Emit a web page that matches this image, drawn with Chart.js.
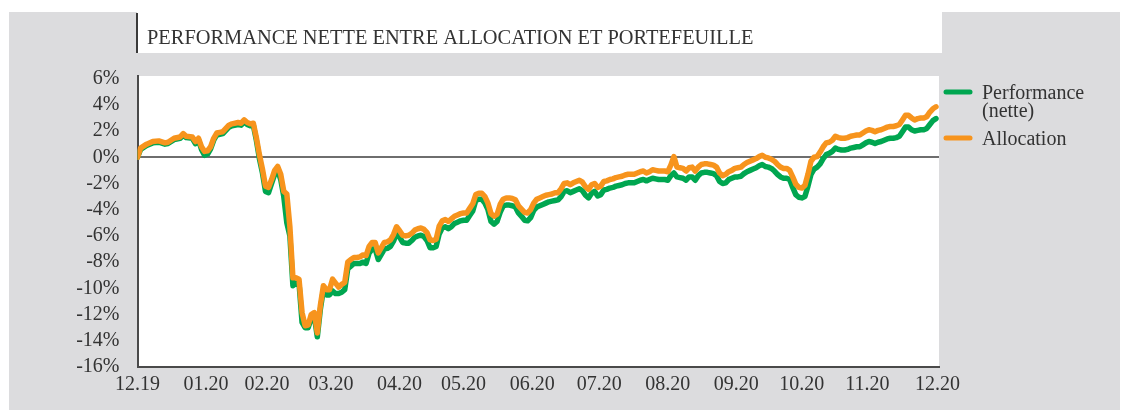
<!DOCTYPE html>
<html>
<head>
<meta charset="utf-8">
<script src="https://cdn.jsdelivr.net/npm/chart.js@4.4.1/dist/chart.umd.min.js"></script>
<style>
    html, body { margin: 0; padding: 0; background: #fff; }
    #wrap { width: 1129px; height: 410px; }
</style>
</head>
<body>
<div id="wrap"><canvas id="perfChart" width="1129" height="410"></canvas></div>
<script>
// ── Données : jours ouvrés depuis le 31.12.2019, performance en % ──
const days = [
    0, 1, 3, 5, 7, 9, 10, 12, 14, 15, 16, 18, 19, 20, 21, 22, 23, 24, 25, 26, 27, 28, 29, 30, 31, 33, 34, 35, 36, 37, 38, 39,
    40, 41, 42, 43, 44, 45, 46, 47, 48, 49, 50, 51, 52, 53, 54, 55, 56, 57, 58, 59, 60, 61, 62, 63, 64, 65, 66, 67, 68, 69,
    70, 71, 72, 73, 74, 75, 76, 77, 78, 79, 80, 81, 82, 83, 84, 85, 86, 87, 88, 89, 90, 91, 92, 93, 94, 95, 96, 97, 98, 99,
    100, 101, 102, 103, 104, 105, 106, 107, 108, 109, 110, 111, 112, 113, 114, 115, 116, 117, 118, 119, 120, 121, 122, 123, 124, 125, 126, 127, 128, 129, 130,
    131, 132, 133, 134, 135, 136, 137, 138, 139, 140, 141, 142, 143, 144, 145, 146, 147, 148, 149, 150, 151, 152, 153, 154, 155, 156, 157, 158, 159, 160,
    161, 162, 163, 164, 165, 166, 167, 168, 169, 170, 171, 172, 173, 174, 175, 176, 177, 178, 179, 180, 181, 182, 183, 184, 185, 186, 187, 188, 189, 190,
    191, 192, 193, 194, 195, 196, 197, 198, 199, 200, 201, 202, 203, 204, 205, 206, 207, 208, 209, 210, 211, 212, 213, 214, 215, 216, 217, 218, 219, 220,
    221, 222, 223, 224, 225, 226, 227, 228, 229, 230, 231, 232, 233, 234, 235, 236, 237, 238, 239, 240, 241, 242, 243, 244, 245, 246, 247, 248, 249, 250,
    251, 252, 253, 254, 255, 256, 257, 258, 259, 260, 261, 262
];

const performanceNette = [
    0.0, 0.6, 0.9, 1.1, 1.15, 1.0, 1.05, 1.35, 1.45, 1.7, 1.5, 1.45, 1.05, 1.35, 0.6, 0.15, 0.25, 0.65, 1.3, 1.7, 1.75, 1.8, 2.05, 2.3, 2.4, 2.5, 2.45, 2.7, 2.5, 2.4, 2.45, 1.3,
    -0.1, -1.2, -2.6, -2.7, -2.0, -1.3, -1.0, -1.7, -3.0, -5.0, -6.0, -9.8, -9.6, -9.6, -12.6, -13.0, -13.0, -12.3, -12.1, -13.7, -11.6, -10.1, -10.5, -10.5, -10.2, -10.4, -10.4, -10.3, -10.1, -8.5,
    -8.3, -8.1, -8.1, -8.1, -8.0, -8.1, -7.3, -7.0, -7.0, -7.8, -7.4, -7.0, -6.95, -6.8, -6.4, -5.8, -6.1, -6.5, -6.55, -6.55, -6.35, -6.1, -6.0, -5.95, -6.05, -6.35, -6.9, -6.9, -6.8, -5.85,
    -5.4, -5.3, -5.45, -5.3, -5.05, -4.95, -4.85, -4.8, -4.8, -4.45, -4.1, -3.3, -3.2, -3.2, -3.5, -4.0, -4.9, -5.1, -4.9, -4.2, -3.7, -3.65, -3.65, -3.7, -3.8, -4.25, -4.5, -4.8, -4.85, -4.6, -4.05,
    -3.8, -3.7, -3.6, -3.5, -3.4, -3.35, -3.3, -3.25, -3.0, -2.6, -2.55, -2.7, -2.6, -2.5, -2.4, -2.55, -2.9, -3.1, -2.75, -2.6, -2.95, -2.85, -2.5, -2.45, -2.35, -2.3, -2.2, -2.15, -2.1, -2.0,
    -1.95, -1.95, -1.95, -1.85, -1.75, -1.7, -1.8, -1.7, -1.6, -1.65, -1.7, -1.7, -1.7, -1.75, -1.4, -1.2, -1.5, -1.55, -1.6, -1.75, -1.5, -1.5, -1.75, -1.4, -1.2, -1.15, -1.15, -1.2, -1.25, -1.4,
    -1.85, -2.0, -1.95, -1.7, -1.6, -1.5, -1.5, -1.45, -1.25, -1.1, -1.0, -0.9, -0.8, -0.65, -0.55, -0.7, -0.75, -0.85, -1.05, -1.3, -1.5, -1.6, -1.6, -1.7, -2.3, -2.85, -3.05, -3.1, -3.0, -2.2,
    -1.3, -0.9, -0.75, -0.5, -0.1, 0.2, 0.3, 0.45, 0.7, 0.6, 0.55, 0.55, 0.6, 0.7, 0.75, 0.8, 0.8, 0.95, 1.1, 1.2, 1.15, 1.05, 1.15, 1.2, 1.3, 1.4, 1.45, 1.45, 1.5, 1.6,
    1.95, 2.3, 2.3, 2.1, 2.0, 2.05, 2.1, 2.1, 2.2, 2.5, 2.8, 2.95
];

const allocation = [
    0.0, 0.7, 1.0, 1.2, 1.25, 1.1, 1.15, 1.45, 1.55, 1.8, 1.6, 1.55, 1.2, 1.45, 0.8, 0.45, 0.5, 0.8, 1.45, 1.85, 1.9, 1.95, 2.2, 2.45, 2.55, 2.65, 2.6, 2.85, 2.65, 2.55, 2.6, 1.5,
    0.2, -0.9, -2.2, -2.3, -1.7, -1.0, -0.7, -1.3, -2.6, -2.8, -5.3, -9.2, -9.2, -9.3, -11.85, -12.85, -12.8, -12.0, -11.85, -13.4, -11.3, -9.8, -10.1, -10.1, -9.3, -9.6, -9.9, -9.7, -9.55, -8.0,
    -7.8, -7.65, -7.65, -7.6, -7.45, -7.5, -6.8, -6.5, -6.5, -7.3, -6.9, -6.5, -6.45, -6.3, -5.9, -5.3, -5.6, -5.95, -6.0, -5.95, -5.8, -5.55, -5.45, -5.4, -5.5, -5.75, -6.3, -6.35, -6.25, -5.25,
    -4.85, -4.75, -4.9, -4.7, -4.5, -4.4, -4.3, -4.25, -4.25, -3.9, -3.55, -2.85, -2.75, -2.75, -3.0, -3.5, -4.3, -4.5, -4.35, -3.6, -3.2, -3.1, -3.1, -3.15, -3.25, -3.7, -3.95, -4.2, -4.25, -4.0, -3.5,
    -3.2, -3.1, -3.0, -2.9, -2.85, -2.8, -2.7, -2.7, -2.4, -2.0, -1.95, -2.1, -1.95, -1.85, -1.75, -1.9, -2.25, -2.45, -2.1, -2.0, -2.3, -2.2, -1.85, -1.8, -1.7, -1.65, -1.55, -1.5, -1.45, -1.35,
    -1.3, -1.3, -1.3, -1.2, -1.1, -1.05, -1.2, -1.1, -0.95, -1.0, -1.05, -1.05, -1.05, -1.1, -0.6, 0.05, -0.75, -0.8, -0.85, -1.05, -0.8, -0.75, -1.05, -0.75, -0.55, -0.5, -0.5, -0.55, -0.6, -0.75,
    -1.2, -1.4, -1.3, -1.1, -1.0, -0.85, -0.8, -0.75, -0.55, -0.4, -0.3, -0.2, -0.1, 0.05, 0.15, 0.0, -0.05, -0.15, -0.3, -0.55, -0.75, -0.85, -0.85, -1.0, -1.5, -2.05, -2.3, -2.35, -2.15, -1.3,
    -0.3, 0.0, 0.05, 0.4, 0.8, 1.1, 1.15, 1.3, 1.6, 1.5, 1.45, 1.45, 1.5, 1.6, 1.65, 1.7, 1.7, 1.85, 2.0, 2.1, 2.05, 1.95, 2.05, 2.1, 2.2, 2.3, 2.35, 2.35, 2.4, 2.5,
    2.85, 3.2, 3.2, 3.0, 2.85, 2.95, 3.0, 3.0, 3.1, 3.45, 3.7, 3.85
];

const yTicks = [6, 4, 2, 0, -2, -4, -6, -8, -10, -12, -14, -16];
const monthTicks = [0, 22.5, 42.5, 63.5, 86, 107, 129.5, 151.5, 174, 196.5, 218, 239.5, 262.5];
const monthLabels = ['12.19', '01.20', '02.20', '03.20', '04.20', '05.20', '06.20', '07.20', '08.20', '09.20', '10.20', '11.20', '12.20'];

const chartTitle = 'PERFORMANCE NETTE ENTRE ALLOCATION ET PORTEFEUILLE';
const seriesLabels = [['Performance', '(nette)'], ['Allocation']];

// ── Style ──
const GREEN = '#00a650';
const ORANGE = '#f7941d';
const PANEL = '#dcdcde';
const INK = '#333333';
const FONT = '"Liberation Serif", "Times New Roman", serif';

// fond gris, cadre du titre et zone de tracé blanche
const backdrop = {
    id: 'backdrop',
    beforeDraw(chart) {
        const { ctx, chartArea: a } = chart;
        ctx.save();
        ctx.fillStyle = '#ffffff';
        ctx.fillRect(0, 0, chart.width, chart.height);
        ctx.fillStyle = PANEL;
        ctx.fillRect(9, 12, 1111, 398);
        ctx.fillStyle = '#ffffff';
        ctx.fillRect(137, 12, 805, 41);
        ctx.fillRect(a.left, a.top, a.right - a.left, a.bottom - a.top);
        ctx.fillStyle = '#3a3a3a';
        ctx.fillRect(136, 13, 2, 40);
        ctx.fillStyle = INK;
        ctx.font = '20.4px ' + FONT;
        ctx.textBaseline = 'alphabetic';
        ctx.fillText(chartTitle, 147, 44);
        ctx.restore();
    }
};

// légende à droite (libellé sur deux lignes)
const sideLegend = {
    id: 'sideLegend',
    afterDraw(chart) {
        const { ctx } = chart;
        const rows = [92, 138];
        ctx.save();
        ctx.font = '20px ' + FONT;
        ctx.textBaseline = 'alphabetic';
        chart.data.datasets.forEach((ds, i) => {
            const y = rows[i];
            ctx.strokeStyle = ds.borderColor;
            ctx.lineWidth = 5;
            ctx.lineCap = 'round';
            ctx.beginPath();
            ctx.moveTo(946, y);
            ctx.lineTo(970, y);
            ctx.stroke();
            ctx.fillStyle = INK;
            seriesLabels[i].forEach((line, j) => ctx.fillText(line, 982, y + 7 + j * 17.5));
        });
        ctx.restore();
    }
};

const toPoints = vals => days.map((d, i) => ({ x: d, y: vals[i] }));

new Chart(document.getElementById('perfChart'), {
    type: 'line',
    data: {
        datasets: [
            {
                label: seriesLabels[0].join(' '),
                data: toPoints(performanceNette),
                borderColor: GREEN,
                borderWidth: 5.5,
                order: 2
            },
            {
                label: seriesLabels[1].join(' '),
                data: toPoints(allocation),
                borderColor: ORANGE,
                borderWidth: 5.5,
                order: 1
            }
        ]
    },
    options: {
        responsive: false,
        animation: false,
        events: [],
        layout: { padding: { top: 76, right: 190, bottom: 13, left: 0 } },
        elements: {
            point: { radius: 0 },
            line: { tension: 0, borderJoinStyle: 'round', borderCapStyle: 'round' }
        },
        plugins: { legend: { display: false }, tooltip: { enabled: false } },
        scales: {
            x: {
                type: 'linear',
                min: 0,
                max: 263,
                afterBuildTicks: s => { s.ticks = monthTicks.map(v => ({ value: v })); },
                afterFit: s => { s.height = 30; },
                grid: { display: false, drawTicks: false },
                border: { display: true, color: '#4a4a4a', width: 2 },
                ticks: {
                    autoSkip: false,
                    maxRotation: 0,
                    padding: 6,
                    color: INK,
                    font: { family: FONT, size: 20 },
                    callback: (v, i) => monthLabels[i]
                }
            },
            y: {
                min: -16,
                max: 6.2,
                afterBuildTicks: s => { s.ticks = yTicks.map(v => ({ value: v })); },
                afterFit: s => { s.width = 137.5; },
                grid: {
                    drawTicks: false,
                    lineWidth: 2,
                    color: c => (c.tick && c.tick.value === 0 ? '#6e6e6e' : 'rgba(0,0,0,0)')
                },
                border: { display: true, color: '#4a4a4a', width: 2 },
                ticks: {
                    autoSkip: false,
                    padding: 18,
                    color: INK,
                    font: { family: FONT, size: 20 },
                    callback: v => v + '%'
                }
            }
        }
    },
    plugins: [backdrop, sideLegend]
});
</script>
</body>
</html>
